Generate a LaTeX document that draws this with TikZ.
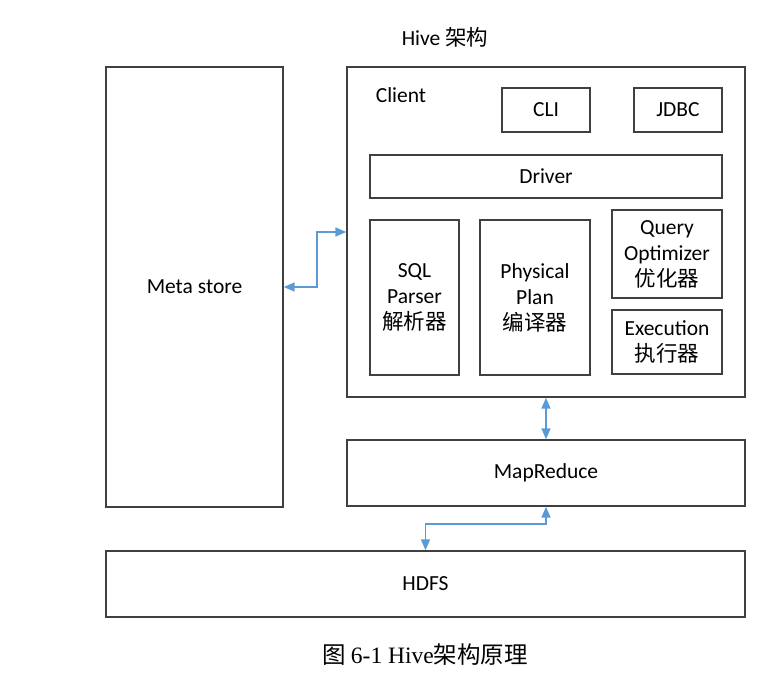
\documentclass[tikz,border=0pt]{standalone}
\usepackage{fontspec}
\setmainfont{Carlito}
\newfontfamily\cjk{Noto Sans CJK SC}
\newfontfamily\capfont{Liberation Serif}
\usetikzlibrary{arrows.meta}
\definecolor{boxgray}{HTML}{404040}
\definecolor{linkblue}{HTML}{5B9BD5}
\tikzstyle{box}=[draw=boxgray,line width=1.4pt,align=center,inner sep=0pt]
\tikzstyle{link}=[draw=linkblue,line width=1.6pt,{Triangle[length=11pt,width=9pt]}-{Triangle[length=11pt,width=9pt]}]

\begin{document}
\begin{tikzpicture}[x=1pt,y=-1pt,font=\fontsize{21.5}{26}\selectfont]
			% Rahmen festlegen
			\useasboundingbox (0,0) rectangle (766,673);
			% Titel
			\node (titel) at (445,37) {Hive {\cjk 架构}};
			% Metastore
			\node[box,minimum width=177pt,minimum height=440pt] (meta) at (194.5,287) {Meta store};
			% Hive-Block mit Client
			\node[box,minimum width=398pt,minimum height=330pt] (hive) at (546,232) {};
			\node (client) at (401,95) {Client};
			\node[box,minimum width=88pt,minimum height=44pt] (cli) at (546,110) {CLI};
			\node[box,minimum width=88pt,minimum height=44pt] (jdbc) at (678,110) {JDBC};
			\node[box,minimum width=352pt,minimum height=43pt] (driver) at (546,176.5) {Driver};
			% Bausteine des Drivers
			\node[box,minimum width=89pt,minimum height=155pt] (parser) at (414.5,297.5) {SQL\\Parser\\{\cjk 解析器}};
			\node[box,minimum width=110pt,minimum height=155pt] (plan) at (535,297.5) {Physical\\Plan\\{\cjk 编译器}};
			\node[box,minimum width=110pt,minimum height=88pt] (optimizer) at (667,254) {Query\\Optimizer\\{\cjk 优化器}};
			\node[box,minimum width=110pt,minimum height=64pt] (execution) at (667,342) {Execution\\{\cjk 执行器}};
			% MapReduce und HDFS
			\node[box,minimum width=398pt,minimum height=66pt] (mapreduce) at (546,473) {MapReduce};
			\node[box,minimum width=639pt,minimum height=66pt] (hdfs) at (425.5,584) {HDFS};
			% Verbindungen
			\draw[link] (meta.east) -- ++(33,0) |- (hive.west);
			\draw[link] (hive.south) -- (mapreduce.north);
			\draw[link] (mapreduce.south) -- ++(0,17) -| (hdfs.north);
			% Bildunterschrift
			\node[font=\fontsize{23.5}{28}\selectfont] (caption) at (425,655) {{\cjk 图} {\capfont 6-1 Hive}{\cjk 架构原理}};
		\end{tikzpicture}
\end{document}
